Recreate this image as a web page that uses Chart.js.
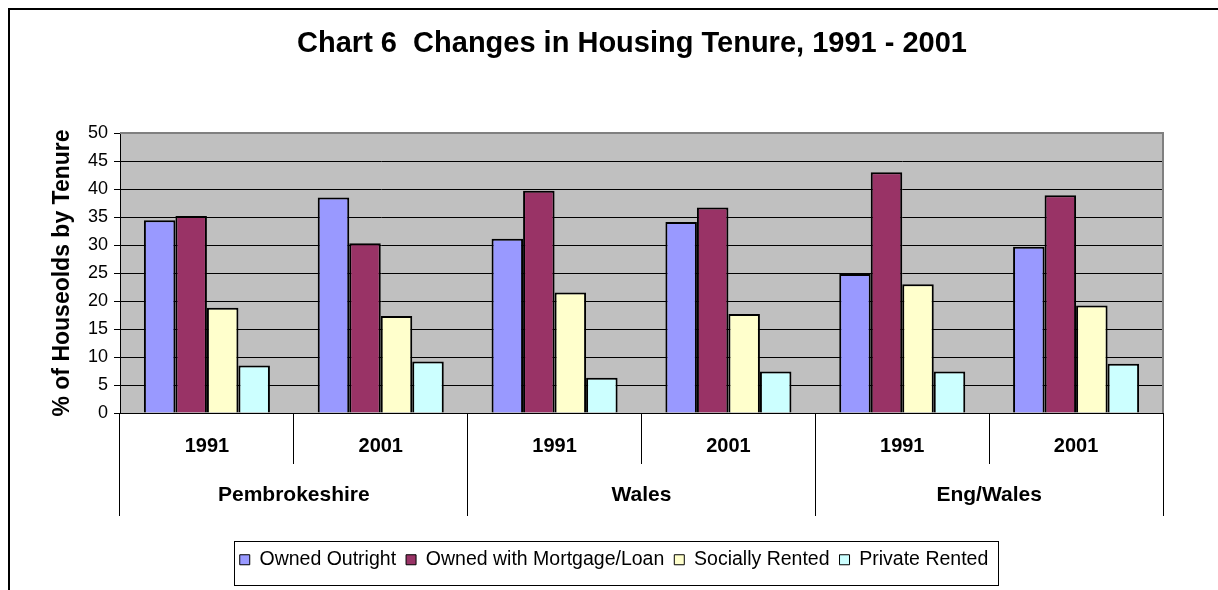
<!DOCTYPE html>
<html>
<head>
<meta charset="utf-8">
<title>Chart 6 Changes in Housing Tenure, 1991 - 2001</title>
<script src="https://cdn.jsdelivr.net/npm/chart.js@4/dist/chart.umd.min.js"></script>
<style>
  html, body { margin: 0; padding: 0; background: #fff; }
  #wrap { width: 1218px; height: 590px; }
</style>
</head>
<body>
<div id="wrap"><canvas id="tenureChart" width="1218" height="590"></canvas></div>
<script>
const years = ['1991', '2001', '1991', '2001', '1991', '2001'];
const regions = ['Pembrokeshire', 'Wales', 'Eng/Wales'];

const ownedOutright = [34.4, 38.5, 31.1, 34.1, 24.8, 29.7];
const ownedMortgage = [35.2, 30.3, 39.7, 36.7, 43.0, 38.9];
const sociallyRented = [18.8, 17.3, 21.5, 17.7, 23.0, 19.2];
const privateRented = [8.5, 9.2, 6.3, 7.4, 7.4, 8.8];

const FONT = 'Arial, "Liberation Sans", sans-serif';

// plot background, outer frame and legend box
const frame = {
  id: 'frame',
  afterLayout(chart) {
    // the original centres title and legend on a frame wider than the window
    if (chart.titleBlock) { chart.titleBlock.left -= 9.5; chart.titleBlock.right -= 9.5; }
    if (chart.legend) { chart.legend.left += 8; chart.legend.right += 8; }
  },
  beforeDraw(chart) {
    const { ctx, chartArea: a } = chart;
    ctx.save();
    ctx.fillStyle = '#C0C0C0';
    ctx.fillRect(a.left, a.top, a.right - a.left, a.bottom - a.top);
    ctx.strokeStyle = '#000';
    ctx.lineWidth = 2;
    ctx.strokeRect(9, 9, 1400, 800);
    ctx.restore();
  },
  beforeDatasetsDraw(chart) {
    const { ctx, chartArea: a } = chart;
    ctx.save();
    ctx.strokeStyle = '#808080';
    ctx.lineWidth = 2;
    ctx.beginPath();
    ctx.moveTo(a.left, a.top);
    ctx.lineTo(a.right, a.top);
    ctx.lineTo(a.right, a.bottom);
    ctx.stroke();
    ctx.restore();
  },
  afterDraw(chart) {
    const lg = chart.legend;
    if (!lg || !lg.legendHitBoxes.length) return;
    const boxes = lg.legendHitBoxes;
    const left = Math.min(...boxes.map(b => b.left)) - 6;
    const right = Math.max(...boxes.map(b => b.left + b.width)) + 9;
    const { ctx } = chart;
    ctx.save();
    ctx.strokeStyle = '#000';
    ctx.lineWidth = 1;
    ctx.strokeRect(Math.round(left) + 0.5, 541.5, Math.round(right - left), 44);
    ctx.restore();
  }
};

const ctx = document.getElementById('tenureChart').getContext('2d');
new Chart(ctx, {
  type: 'bar',
  data: {
    labels: years,
    datasets: [
      { label: 'Owned Outright', data: ownedOutright, backgroundColor: '#9999FF' },
      { label: 'Owned with Mortgage/Loan', data: ownedMortgage, backgroundColor: '#993366' },
      { label: 'Socially Rented', data: sociallyRented, backgroundColor: '#FFFFCC' },
      { label: 'Private Rented', data: privateRented, backgroundColor: '#CCFFFF' }
    ].map(d => ({ ...d, borderColor: '#000', borderWidth: 2, categoryPercentage: 0.725, barPercentage: 1 }))
  },
  options: {
    responsive: false,
    animation: false,
    layout: { padding: { left: 49, right: 55, top: 14, bottom: 10.5 } },
    plugins: {
      title: {
        display: true,
        fullSize: false,
        text: 'Chart 6  Changes in Housing Tenure, 1991 - 2001',
        color: '#000',
        font: { family: FONT, size: 29, weight: 'bold' },
        padding: { top: 12.5, bottom: 71.7 }
      },
      legend: {
        position: 'bottom',
        labels: {
          color: '#000',
          font: { family: FONT, size: 19.5 },
          boxWidth: 10,
          boxHeight: 10,
          padding: 10,
          generateLabels: chart => Chart.defaults.plugins.legend.labels.generateLabels(chart)
            .map(l => ({ ...l, lineWidth: 1 }))
        }
      },
      tooltip: { enabled: false }
    },
    scales: {
      y: {
        min: 0,
        max: 50,
        ticks: { stepSize: 5, color: '#000', padding: 6, font: { family: FONT, size: 18 } },
        grid: {
          color: c => (c.tick && c.tick.value === 50 ? '#808080' : '#000'),
          tickColor: '#000',
          tickLength: 6
        },
        border: { color: '#000', width: 1 },
        title: {
          display: true,
          text: '% of Houseolds by Tenure',
          color: '#000',
          font: { family: FONT, size: 23, weight: 'bold' },
          padding: { top: 0, bottom: 0 }
        },
        afterFit: s => { s.width = 71; }
      },
      x: {
        position: 'bottom',
        ticks: { color: '#000', padding: -30, maxRotation: 0, autoSkip: false, font: { family: FONT, size: 20, weight: 'bold' } },
        grid: { offset: true, drawOnChartArea: false, tickLength: 51, color: '#000' },
        border: { color: '#000', width: 1 },
        afterFit: s => { s.height = 51; }
      },
      x2: {
        type: 'category',
        position: 'bottom',
        labels: regions,
        offset: true,
        ticks: { color: '#000', padding: -33, maxRotation: 0, autoSkip: false, font: { family: FONT, size: 21, weight: 'bold' } },
        grid: { offset: true, drawOnChartArea: false, tickLength: 52, color: '#000' },
        border: { display: false },
        afterFit: s => { s.height = 76; }
      }
    }
  },
  plugins: [frame]
});
</script>
</body>
</html>
